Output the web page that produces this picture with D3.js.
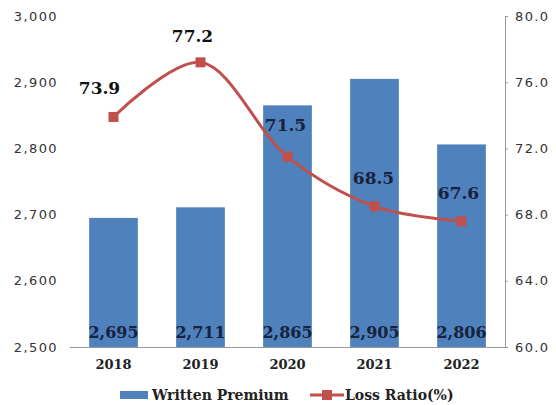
<!DOCTYPE html>
<html><head><meta charset="utf-8">
<script src="https://cdn.jsdelivr.net/npm/d3@7"></script>
<style>body{margin:0;background:#fff}</style>
</head><body>
<svg id="c" width="556" height="405"></svg>
<script>
const years = ["2018","2019","2020","2021","2022"];
const premium = [2695, 2711, 2865, 2905, 2806];
const premiumLabels = ["2,695","2,711","2,865","2,905","2,806"];
const lossRatio = [73.9, 77.2, 71.5, 68.5, 67.6];
const leftTicks = [2500, 2600, 2700, 2800, 2900, 3000];
const rightTicks = [60, 64, 68, 72, 76, 80];
const seriesNames = ["Written Premium", "Loss Ratio(%)"];

const svg = d3.select("#c");
const L = 70, R = 505, T = 16, B = 347;
const x = d3.scaleBand().domain(years).range([L, R]).paddingInner(0.44).paddingOuter(0.22);
const yL = d3.scaleLinear().domain([2500, 3000]).range([B, T]);
const yR = d3.scaleLinear().domain([60, 80]).range([B, T]);
const blue = "#4f81bd", red = "#c0504d";
const serif = "'DejaVu Serif', serif";
const sans = "'DejaVu Sans', sans-serif";

// bars
svg.selectAll("rect.bar").data(years).enter().append("rect")
  .attr("x", d => x(d)).attr("width", x.bandwidth())
  .attr("y", (d,i) => yL(premium[i])).attr("height", (d,i) => B - yL(premium[i]))
  .attr("fill", blue);

// left axis (no line)
const gl = svg.append("g").attr("transform", `translate(${L},0)`)
  .call(d3.axisLeft(yL).tickValues(leftTicks).tickFormat(d3.format(",")).tickSize(0).tickPadding(12));
gl.select(".domain").remove();
gl.selectAll("text").attr("font-family", sans).attr("font-size", 13).attr("fill", "#333").attr("letter-spacing", "1.4px");

// right axis
const gr = svg.append("g").attr("transform", `translate(${R},0)`)
  .call(d3.axisRight(yR).tickValues(rightTicks).tickFormat(d3.format(".1f")).tickSize(3).tickPadding(7));
gr.select(".domain").attr("stroke", "#999");
gr.selectAll("line").attr("stroke", "#999");
gr.selectAll("text").attr("font-family", sans).attr("font-size", 13).attr("fill", "#333").attr("letter-spacing", "1.4px");

// bottom axis
const gb = svg.append("g").attr("transform", `translate(0,${B})`)
  .call(d3.axisBottom(x).tickSize(0).tickPadding(13));
gb.select(".domain").attr("stroke", "#999").attr("d", `M${L},0.5H${R}`);
gb.selectAll("text").attr("font-family", serif).attr("font-weight", "bold").attr("font-size", 13).attr("fill", "#222");

// bar labels
svg.selectAll("text.bl").data(years).enter().append("text")
  .attr("x", d => x(d) + x.bandwidth()/2).attr("y", B - 9)
  .attr("text-anchor", "middle").attr("font-family", serif).attr("font-weight", "bold")
  .attr("font-size", 16).attr("fill", "#17223d")
  .text((d,i) => premiumLabels[i]);

// line
const cx = d => x(d) + x.bandwidth()/2;
const line = d3.line().x((d,i) => cx(years[i])).y(d => yR(d)).curve(d3.curveCatmullRom.alpha(0.5));
svg.append("path").attr("d", line(lossRatio)).attr("fill", "none").attr("stroke", red).attr("stroke-width", 3);
svg.selectAll("rect.mk").data(lossRatio).enter().append("rect")
  .attr("x", (d,i) => cx(years[i]) - 5).attr("y", d => yR(d) - 5)
  .attr("width", 10).attr("height", 10).attr("fill", red);

// line labels
const offX = [-14, -8, -2, -1, -3];
const offY = [-23, -20, -26, -22, -22];
svg.selectAll("text.ll").data(lossRatio).enter().append("text")
  .attr("x", (d,i) => cx(years[i]) + offX[i]).attr("y", (d,i) => yR(d) + offY[i])
  .attr("text-anchor", "middle").attr("font-family", serif).attr("font-weight", "bold")
  .attr("font-size", 17).attr("fill", (d,i) => i >= 2 ? "#17223d" : "#111")
  .text(d => d3.format(".1f")(d));

// legend
const lg = svg.append("g");
lg.append("rect").attr("x", 120).attr("y", 391).attr("width", 28).attr("height", 8).attr("fill", blue);
lg.append("text").attr("x", 152).attr("y", 400).attr("font-family", serif).attr("font-weight", "bold")
  .attr("font-size", 14).attr("fill", "#222").text(seriesNames[0]);
lg.append("line").attr("x1", 310).attr("x2", 344).attr("y1", 395).attr("y2", 395).attr("stroke", red).attr("stroke-width", 3);
lg.append("rect").attr("x", 322).attr("y", 390).attr("width", 10).attr("height", 10).attr("fill", red);
lg.append("text").attr("x", 345).attr("y", 400).attr("font-family", serif).attr("font-weight", "bold")
  .attr("font-size", 14).attr("fill", "#222").text(seriesNames[1]);
</script>
</body></html>
